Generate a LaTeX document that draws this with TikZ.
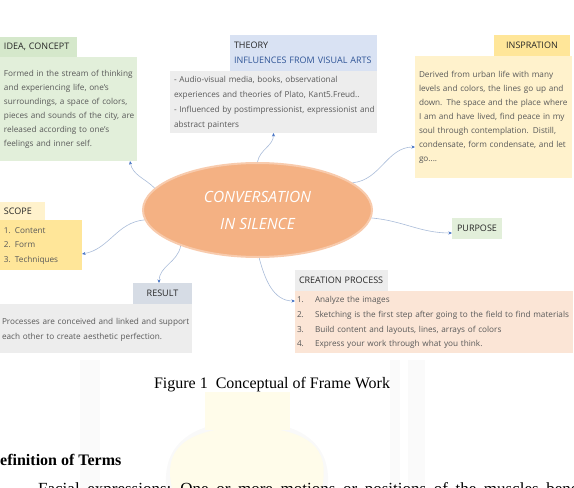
\documentclass[tikz,border=0pt]{standalone}
\usepackage{fontspec}
\setmainfont{Liberation Serif}
\setsansfont{Open Sans}
\usepackage{xcolor}
\usetikzlibrary{positioning,arrows.meta,shapes.geometric}
\definecolor{txt}{HTML}{595959}
\definecolor{hdtxt}{HTML}{262626}
\definecolor{cgreen}{HTML}{E2EFDA}
\definecolor{cgreenhd}{HTML}{D5E8CB}
\definecolor{cblue}{HTML}{D9E2F3}
\definecolor{cbluetxt}{HTML}{2F5597}
\definecolor{cgrey}{HTML}{EDEDED}
\definecolor{cyel}{HTML}{FFF2CC}
\definecolor{cyelhd}{HTML}{FFE699}
\definecolor{cslate}{HTML}{D6DCE5}
\definecolor{cpeach}{HTML}{FBE5D6}
\definecolor{corange}{HTML}{F4B183}
\definecolor{corangeln}{HTML}{F8CBAD}
\definecolor{clink}{HTML}{A9BCD9}
\definecolor{ctip}{HTML}{4472C4}
\definecolor{wmark}{HTML}{FFFCEA}

\begin{document}
\begin{tikzpicture}[x=1pt, y=-1pt,
  hd/.style={anchor=north west, inner xsep=4pt, inner ysep=0pt, outer sep=0pt, align=left,
    font=\sffamily\fontsize{9}{15}\selectfont, text=hdtxt},
  bx/.style={anchor=north west, inner xsep=4pt, inner ysep=0pt, outer sep=0pt, align=left,
    font=\sffamily\fontsize{8.2}{14}\selectfont, text=txt},
  core/.style={ellipse, fill=corange, draw=corangeln, line width=2pt, minimum width=229pt,
    minimum height=94pt, align=center, text=white, font=\sffamily\itshape\fontsize{15.5}{27}\selectfont},
  arr/.style={draw=clink, line width=0.6pt, -{Stealth[length=3.5pt,width=3pt,color=ctip]}},
]
\useasboundingbox (0,0) rectangle (574,488);
\clip (0,0) rectangle (574,488);

% ---------- faint page watermark ----------
\fill[gray!4] (80,360) rectangle (100,488);
\fill[gray!4] (390,360) rectangle (400,488);
\fill[gray!4] (408,360) rectangle (425,488);
\draw[gray!5, line width=7pt] (172,500) .. controls (160,450) and (190,425) .. (247,425)
  .. controls (304,425) and (334,450) .. (322,500);
\fill[wmark] (205,392) rectangle (290,430);
\fill[wmark] (215,430) -- (280,430) .. controls (330,440) and (325,470) .. (322,488)
  -- (172,488) .. controls (168,470) and (165,440) .. (215,430) -- cycle;

% ---------- boxes round the centre ----------
\node[hd, fill=cgreenhd, text width=69pt, minimum height=20pt] (ideahd) at (0,37) {IDEA, CONCEPT};
\node[bx, fill=cgreen, text width=129pt, minimum height=104pt, inner xsep=4pt] (ideabody) at (0,57)
  {\begin{tabular}{@{}l@{}}Formed in the stream of thinking\\and experiencing life, one's\\surroundings, a space of colors,\\pieces and sounds of the city, are\\released according to one's\\feelings and inner self.\end{tabular}};

\node[hd, fill=cblue, text width=139pt, minimum height=36pt] (theoryhd) at (230,35)
  {THEORY\\\textcolor{cbluetxt}{INFLUENCES FROM VISUAL ARTS}};
\node[bx, fill=cgrey, text width=199pt, minimum height=62pt, font=\sffamily\fontsize{8.2}{15}\selectfont] (theorybody) at (170,71)
  {\begin{tabular}{@{}l@{}}- Audio-visual media, books, observational\\experiences and theories of Plato, Kant5.Freud..\\- Influenced by postimpressionist, expressionist and\\abstract painters\end{tabular}};

\node[hd, fill=cyelhd, text width=68pt, minimum height=21pt, align=center] (insphd) at (494,35) {INSPRATION};
\node[bx, fill=cyel, text width=149pt, minimum height=122pt] (inspbody) at (415,56)
  {\begin{tabular}{@{}l@{}}Derived from urban life with many\\levels and colors, the lines go up and\\down. The space and the place where\\I am and have lived, find peace in my\\soul through contemplation. Distill,\\condensate, form condensate, and let\\go....\end{tabular}};

\node[hd, fill=cyel, text width=37pt, minimum height=18pt] (scopehd) at (0,202) {SCOPE};
\node[bx, fill=cyelhd, text width=74pt, minimum height=50pt, font=\sffamily\fontsize{8.2}{14.5}\selectfont] (scopebody) at (0,220)
  {\begin{tabular}{@{}l@{}}1. Content\\2. Form\\3. Techniques\end{tabular}};

\node[hd, fill=cgreen, text width=42pt, minimum height=21pt, align=center] (purpose) at (452,218) {PURPOSE};

\node[hd, fill=cslate, text width=51pt, minimum height=21pt, align=center] (resulthd) at (133,283) {RESULT};
\node[bx, fill=cgrey, text width=188pt, minimum height=49pt, inner xsep=2pt, font=\sffamily\fontsize{8.2}{15}\selectfont] (resultbody) at (0,304)
  {\begin{tabular}{@{}l@{}}Processes are conceived and linked and support\\each other to create aesthetic perfection.\end{tabular}};

\node[hd, fill=cgrey, text width=85pt, minimum height=21pt] (creathd) at (295,270) {CREATION PROCESS};
\node[bx, fill=cpeach, text width=274pt, minimum height=62pt, inner xsep=2pt, font=\sffamily\fontsize{8.2}{14.7}\selectfont] (creatbody) at (295,291)
  {\begin{tabular}{@{}l@{}}\makebox[18pt][l]{1.}Analyze the images\\
   \makebox[18pt][l]{2.}Sketching is the first step after going to the field to find materials\\
   \makebox[18pt][l]{3.}Build content and layouts, lines, arrays of colors\\
   \makebox[18pt][l]{4.}Express your work through what you think.\end{tabular}};

% ---------- centre ----------
\node[core] (conv) at (257.5,210) {CONVERSATION\\IN SILENCE};

% ---------- links ----------
\draw[arr] (conv.168) to[out=135, in=-80] ([xshift=-7pt]ideabody.south east);
\draw[arr] (conv.90) to[out=80, in=-90] (theorybody.south);
\draw[arr] (conv.16) to[out=5, in=180] ([yshift=-30pt]inspbody.west);
\draw[arr] (conv.185) to[out=185, in=10] ([yshift=-9pt]scopebody.east);
\draw[arr] (conv.-4) to[out=-5, in=180] ([yshift=-4.5pt]purpose.west);
\draw[arr] (conv.205) to[out=-100, in=90] ([xshift=-3.5pt]resulthd.north);
\draw[arr] (conv.-88) to[out=-75, in=180] ([yshift=21pt]creatbody.west);

% ---------- page text ----------
\node[font=\fontsize{16}{18}\selectfont] (caption) at (272,385) {Figure 1\ \ Conceptual of Frame Work};
\node[anchor=base west, inner xsep=0pt, font=\bfseries\fontsize{16}{18}\selectfont] (terms) at (0,465) {efinition of Terms};
\node[anchor=base west, inner xsep=0pt, font={\fontsize{17}{19}\selectfont\spaceskip=7.6pt}] (facial) at (38,494)
  {Facial expressions: One or more motions or positions of the muscles beneath};
\end{tikzpicture}
\end{document}
